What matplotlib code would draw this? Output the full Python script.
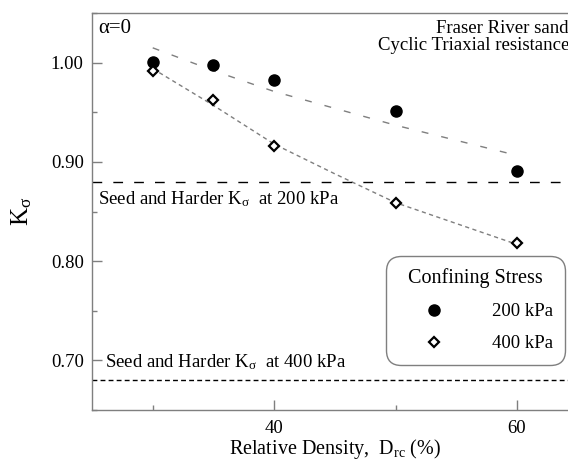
import matplotlib
matplotlib.use("Agg")
import matplotlib.pyplot as plt
from matplotlib.ticker import MultipleLocator, FixedLocator

plt.rcParams['font.family'] = ['Liberation Serif', 'DejaVu Serif']
plt.rcParams['mathtext.fontset'] = 'stix'
plt.rcParams['lines.scale_dashes'] = False

# measured points
dr = [30, 35, 40, 50, 60]
k_200 = [1.001, 0.998, 0.983, 0.951, 0.891]
k_400 = [0.992, 0.962, 0.916, 0.859, 0.818]

# trend lines
trend_200_x = [30, 35, 40, 50, 59.2]
trend_200_y = [1.015, 0.992, 0.971, 0.937, 0.909]
trend_400_x = [30, 35, 40, 45, 50, 59.5]
trend_400_y = [0.994, 0.957, 0.918, 0.888, 0.859, 0.819]

# Seed and Harder reference values
seed_200 = 0.88
seed_400 = 0.68

fig = plt.figure(figsize=(5.68, 4.61), dpi=100)
ax = fig.add_axes([0.162, 0.1106, 0.855, 0.861])

grey = '#7f7f7f'
ax.plot(trend_200_x, trend_200_y, color=grey, lw=1.0, dashes=(5, 9.5))
ax.plot(trend_400_x, trend_400_y, color=grey, lw=1.0, dashes=(3, 2.5))

ax.axhline(seed_200, color='black', lw=1.0, dashes=(7, 8))
ax.axhline(seed_400, color='black', lw=1.0, dashes=(3.5, 2.3))

ax.plot(dr, k_200, 'o', color='black', ms=8, label='200 kPa', zorder=5)
ax.plot(dr, k_400, 'D', mfc='white', mec='black', mew=1.6, ms=5.5,
        label='400 kPa', zorder=5)

ax.set_xlim(25, 65)
ax.set_ylim(0.65, 1.05)
ax.xaxis.set_major_locator(FixedLocator([40, 60]))
ax.xaxis.set_minor_locator(FixedLocator([30, 50]))
ax.yaxis.set_major_locator(MultipleLocator(0.1))
ax.yaxis.set_minor_locator(MultipleLocator(0.05))
ax.yaxis.set_major_formatter(matplotlib.ticker.FormatStrFormatter('%.2f'))
ax.tick_params(which='both', direction='in', color=grey, labelsize=13.5,
               right=False, top=False)
ax.tick_params(which='major', length=7, width=1)
ax.tick_params(which='minor', length=3.5, width=1)
ax.tick_params(axis='y', pad=6)
ax.tick_params(axis='x', pad=7.5)
for s in ax.spines.values():
    s.set_color(grey)
    s.set_linewidth(1.0)
ax.spines['right'].set_visible(False)

ax.set_xlabel('Relative Density,  $\\mathregular{D_{rc}}$ (%)', fontsize=14.5, labelpad=0)
ax.set_ylabel('$\\mathregular{K_{σ}}$', fontsize=18, labelpad=12)

ax.text(0.012, 0.962, 'α=0', transform=ax.transAxes, fontsize=15,
        ha='left', va='center')
ax.text(0.982, 0.962, 'Fraser River sand', transform=ax.transAxes,
        fontsize=13.5, ha='right', va='center')
ax.text(0.982, 0.918, 'Cyclic Triaxial resistance', transform=ax.transAxes,
        fontsize=13.5, ha='right', va='center')
ax.text(25.5, seed_200 - 0.017, 'Seed and Harder $\\mathregular{K_{σ}}$  at 200 kPa',
        fontsize=13.5, ha='left', va='center')
ax.text(26.1, seed_400 + 0.018, 'Seed and Harder $\\mathregular{K_{σ}}$  at 400 kPa',
        fontsize=13.5, ha='left', va='center')

leg = ax.legend(title='Confining Stress', loc='upper right',
                bbox_to_anchor=(0.974, 0.388), fontsize=13.5,
                title_fontsize=14.5, frameon=True, fancybox=True,
                borderpad=0.65, handlelength=3.8, handletextpad=1.2,
                labelspacing=0.8, borderaxespad=0)
frame = leg.get_frame()
frame.set_edgecolor(grey)
frame.set_linewidth(1.0)
frame.set_alpha(1)
frame.set_boxstyle('round,pad=0,rounding_size=0.8')

fig.savefig('out.png', dpi=100)
